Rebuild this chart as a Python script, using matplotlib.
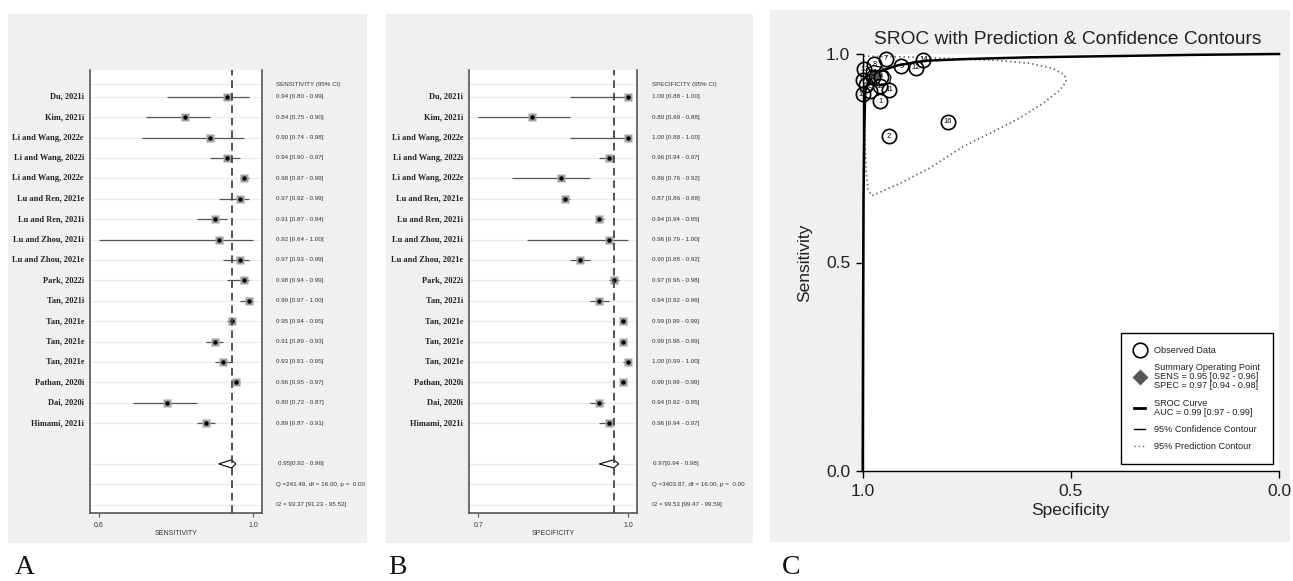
import matplotlib
matplotlib.use("Agg")
import matplotlib.pyplot as plt
from matplotlib.patches import Rectangle
from matplotlib.lines import Line2D

plt.rcParams['font.family'] = ['Liberation Sans', 'DejaVu Sans']
plt.rcParams['lines.scale_dashes'] = False

# ---------------- data ----------------
studies = ["Du, 2021i", "Kim, 2021i", "Li and Wang, 2022e", "Li and Wang, 2022i",
           "Li and Wang, 2022e", "Lu and Ren, 2021e", "Lu and Ren, 2021i",
           "Lu and Zhou, 2021i", "Lu and Zhou, 2021e", "Park, 2022i", "Tan, 2021i",
           "Tan, 2021e", "Tan, 2021e", "Tan, 2021e", "Pathan, 2020i", "Dai, 2020i",
           "Himami, 2021i"]

sens = [0.94, 0.84, 0.90, 0.94, 0.98, 0.97, 0.91, 0.92, 0.97, 0.98, 0.99, 0.95, 0.91, 0.93, 0.96, 0.80, 0.89]
sens_lo = [0.80, 0.75, 0.74, 0.90, 0.97, 0.92, 0.87, 0.64, 0.93, 0.94, 0.97, 0.94, 0.89, 0.91, 0.95, 0.72, 0.87]
sens_hi = [0.99, 0.90, 0.98, 0.97, 0.99, 0.99, 0.94, 1.00, 0.99, 0.99, 1.00, 0.95, 0.93, 0.95, 0.97, 0.87, 0.91]
sens_pooled = [0.95, 0.92, 0.96]
sens_q = "Q =241.49, df = 16.00, p =  0.00"
sens_i2 = "I2 = 93.37 [91.23 - 95.52]"

spec = [1.00, 0.80, 1.00, 0.96, 0.86, 0.87, 0.94, 0.96, 0.90, 0.97, 0.94, 0.99, 0.99, 1.00, 0.99, 0.94, 0.96]
spec_lo = [0.88, 0.69, 0.88, 0.94, 0.76, 0.86, 0.94, 0.79, 0.88, 0.96, 0.92, 0.99, 0.98, 0.99, 0.99, 0.92, 0.94]
spec_hi = [1.00, 0.88, 1.00, 0.97, 0.92, 0.88, 0.95, 1.00, 0.92, 0.98, 0.96, 0.99, 0.99, 1.00, 0.99, 0.95, 0.97]
spec_pooled = [0.97, 0.94, 0.98]
spec_q = "Q =3403.87, df = 16.00, p =  0.00"
spec_i2 = "I2 = 99.53 [99.47 - 99.59]"

# SROC panel
obs_id = list(range(1, 18))
obs_spec = [0.958, 0.937, 0.983, 0.956, 0.975, 0.992, 0.944, 0.972, 0.907, 0.958,
            0.937, 0.873, 0.996, 0.854, 1.000, 0.795, 1.000]
obs_sens = [0.887, 0.803, 0.912, 0.946, 0.944, 0.925, 0.989, 0.975, 0.971, 0.923,
            0.914, 0.967, 0.964, 0.986, 0.903, 0.837, 0.938]
summary_point = (0.97, 0.95)

sroc_spec = [1.0, 0.999, 0.998, 0.996, 0.994, 0.985, 0.975, 0.96, 0.94, 0.915, 0.88, 0.845, 0.75, 0.6, 0.4, 0.2, 0.0]
sroc_sens = [0.0, 0.40, 0.65, 0.82, 0.91, 0.935, 0.946, 0.957, 0.965, 0.973, 0.979, 0.984, 0.988, 0.992, 0.995, 0.998, 1.0]

conf_spec = [0.990, 0.975, 0.955, 0.940, 0.932, 0.935, 0.948, 0.965, 0.982, 0.992, 0.990]
conf_sens = [0.965, 0.972, 0.968, 0.957, 0.945, 0.932, 0.925, 0.924, 0.932, 0.948, 0.965]

pred_spec = [0.998, 0.95, 0.85, 0.75, 0.68, 0.60, 0.545, 0.515, 0.511, 0.526, 0.566, 0.622,
             0.678, 0.759, 0.838, 0.91, 0.96, 0.978, 0.987, 0.992, 0.995, 0.997, 0.998]
pred_sens = [0.995, 0.994, 0.992, 0.987, 0.985, 0.978, 0.966, 0.950, 0.934, 0.914, 0.882, 0.847,
             0.818, 0.778, 0.727, 0.690, 0.668, 0.660, 0.675, 0.72, 0.80, 0.90, 0.995]

legend_labels = ["Observed Data",
                 "Summary Operating Point\nSENS = 0.95 [0.92 - 0.96]\nSPEC = 0.97 [0.94 - 0.98]",
                 "SROC Curve\nAUC = 0.99 [0.97 - 0.99]",
                 "95% Confidence Contour",
                 "95% Prediction Contour"]

# ---------------- figure ----------------
W, H = 1293, 581
fig = plt.figure(figsize=(W / 100, H / 100), dpi=100)
fig.patch.set_facecolor('white')
BG = '#f0f0f0'


def fx(x):
    return x / W


def fy(y):
    return 1 - y / H


def bg(x0, y0, x1, y1):
    fig.patches.append(Rectangle((fx(x0), fy(y1)), (x1 - x0) / W, (y1 - y0) / H,
                                 transform=fig.transFigure, facecolor=BG,
                                 edgecolor='none', zorder=-10))


bg(8, 14, 367, 543)
bg(386, 14, 753, 543)
bg(770, 10, 1290, 542)

ROW0 = 96.7
ROWH = 20.4


def forest(x0, x1, est, lo, hi, pooled, q, i2, header, xlabel, text_x):
    top, bot = 70, 513
    ax = fig.add_axes([fx(x0), fy(bot), (x1 - x0) / W, (bot - top) / H])
    ax.set_facecolor('white')
    n = len(est)
    rows = list(range(n))
    xmin = min(lo)
    span = (1.0 - xmin) * (x1 - x0) / ((x1 - x0) - 18)
    pad = (span - (1.0 - xmin)) / 2
    ax.set_xlim(xmin - pad, 1.0 + pad)
    ax.set_ylim((bot - ROW0) / ROWH, (top - ROW0) / ROWH)
    hdr = (84 - ROW0) / ROWH
    for r in [hdr] + rows + [n + 1, n + 2, n + 3]:
        ax.axhline(r, color='#ebebeb', lw=0.8, zorder=0)
    ax.hlines(rows, lo, hi, color='#555555', lw=0.9, zorder=2)
    ax.plot(est, rows, 's', ms=6.3, color='#a0a0a0', mec='none', zorder=3)
    ax.plot(est, rows, 'o', ms=3.2, color='black', mec='none', zorder=4)
    pr = n + 1
    ax.fill([pooled[1], pooled[0], pooled[2], pooled[0]],
            [pr, pr - 0.2, pr, pr + 0.2], facecolor='white', edgecolor='black',
            lw=0.8, zorder=3)
    ax.axvline(pooled[0], color='#444444', lw=1.3, dashes=(5.5, 3.5), zorder=5)
    for s in ['left', 'right', 'bottom']:
        ax.spines[s].set_color('#555555')
        ax.spines[s].set_linewidth(1.2)
    ax.spines['top'].set_visible(False)
    ax.set_yticks([])
    ax.set_xticks([xmin, 1.0])
    ax.set_xticklabels(['%.1f' % xmin, '%.1f' % 1.0])
    ax.tick_params(axis='x', labelsize=5, length=3, width=0.8, color='#555555',
                   pad=3.5, labelcolor='#333333')
    ax.text(0.5, -0.047, xlabel, transform=ax.transAxes, ha='center', va='center',
            fontsize=5, color='#333333')
    tr = ax.get_yaxis_transform()
    lab_x = -6 / (x1 - x0)
    tx = (text_x - x0) / (x1 - x0)
    for r, name in zip(rows, studies):
        ax.text(lab_x, r, name, transform=tr, ha='right', va='center', fontsize=6,
                fontweight='bold', family=['Liberation Serif', 'DejaVu Serif'],
                color='#222222', clip_on=False)
    for r, e, l, h in zip(rows, est, lo, hi):
        ax.text(tx, r, '%.2f [%.2f - %.2f]' % (e, l, h), transform=tr, ha='left',
                va='center', fontsize=4.5, color='#333333', clip_on=False)
    ax.text(tx, hdr, header, transform=tr, ha='left', va='center', fontsize=4.5,
            color='#333333', clip_on=False)
    ax.text(tx + 0.01, pr, '%.2f[%.2f - %.2f]' % tuple(pooled), transform=tr,
            ha='left', va='center', fontsize=4.5, color='#333333', clip_on=False)
    ax.text(tx, n + 2, q, transform=tr, ha='left', va='center', fontsize=4.5,
            color='#333333', clip_on=False)
    ax.text(tx, n + 3, i2, transform=tr, ha='left', va='center', fontsize=4.5,
            color='#333333', clip_on=False)
    return ax


forest(90, 262, sens, sens_lo, sens_hi, sens_pooled, sens_q, sens_i2,
       "SENSITIVITY (95% CI)", "SENSITIVITY", 276)
forest(469.3, 637.3, spec, spec_lo, spec_hi, spec_pooled, spec_q, spec_i2,
       "SPECIFICITY (95% CI)", "SPECIFICITY", 651.7)

# ---------------- SROC ----------------
cx0, cx1, cy0, cy1 = 862.7, 1279, 54, 471
axc = fig.add_axes([fx(cx0), fy(cy1), (cx1 - cx0) / W, (cy1 - cy0) / H])
axc.set_facecolor('white')
axc.set_xlim(1.0, 0.0)
axc.set_ylim(0.0, 1.0)
for s in ['top', 'right']:
    axc.spines[s].set_visible(False)
for s in ['left', 'bottom']:
    axc.spines[s].set_linewidth(1.0)
axc.set_xticks([1.0, 0.5, 0.0])
axc.set_yticks([0.0, 0.5, 1.0])
axc.set_xticklabels(['1.0', '0.5', '0.0'])
axc.set_yticklabels(['0.0', '0.5', '1.0'])
axc.tick_params(labelsize=12.5, length=5, width=1, pad=4, labelcolor='#222222')
axc.set_xlabel('Specificity', fontsize=12.5, labelpad=3, color='#222222')
axc.set_ylabel('Sensitivity', fontsize=12.5, labelpad=10, color='#222222')
fig.text(fx(1068), fy(40), 'SROC with Prediction & Confidence Contours',
         ha='center', va='center', fontsize=13.8, color='#222222')

axc.plot(pred_spec, pred_sens, color='#666666', lw=1.3, ls=(0, (1, 2.2)), zorder=2)
axc.plot(sroc_spec, sroc_sens, color='black', lw=1.8, zorder=3, clip_on=False)
axc.plot(conf_spec, conf_sens, color='black', lw=0.9, zorder=3)
axc.plot([summary_point[0]], [summary_point[1]], 'D', color='#555555', ms=7,
         mec='none', zorder=4)
axc.plot(obs_spec, obs_sens, 'o', mfc='none', mec='black', ms=10.3, mew=1.2,
         ls='none', zorder=5, clip_on=False)
for i, s_, se in zip(obs_id, obs_spec, obs_sens):
    axc.text(s_, se, str(i), ha='center', va='center', fontsize=5.5, zorder=6,
             clip_on=False)

handles = [Line2D([], [], marker='o', ls='none', mfc='none', mec='black', ms=10.5, mew=1.2),
           Line2D([], [], marker='D', ls='none', color='#555555', ms=8, mec='none'),
           Line2D([], [], color='black', lw=2),
           Line2D([], [], color='black', lw=1),
           Line2D([], [], color='#666666', lw=1, ls=(0, (1, 2)))]
leg = axc.legend(handles, legend_labels, loc='lower right',
                 bbox_to_anchor=(0.9856, 0.0168), fontsize=6.6, frameon=True,
                 fancybox=False, edgecolor='black', framealpha=1,
                 handlelength=1.2, handletextpad=1.0, borderpad=1.4,
                 labelspacing=0.9, borderaxespad=0)
leg.get_frame().set_linewidth(1.0)
for t in leg.get_texts():
    t.set_linespacing(1.0)
    t.set_color('#222222')

# panel letters
for lx, letter in [(15, 'A'), (388, 'B'), (782, 'C')]:
    fig.text(fx(lx), fy(567), letter, ha='left', va='center', fontsize=20,
             family=['Liberation Serif', 'DejaVu Serif'], color='#111111')

fig.savefig('out.png', dpi=100, facecolor='white')
